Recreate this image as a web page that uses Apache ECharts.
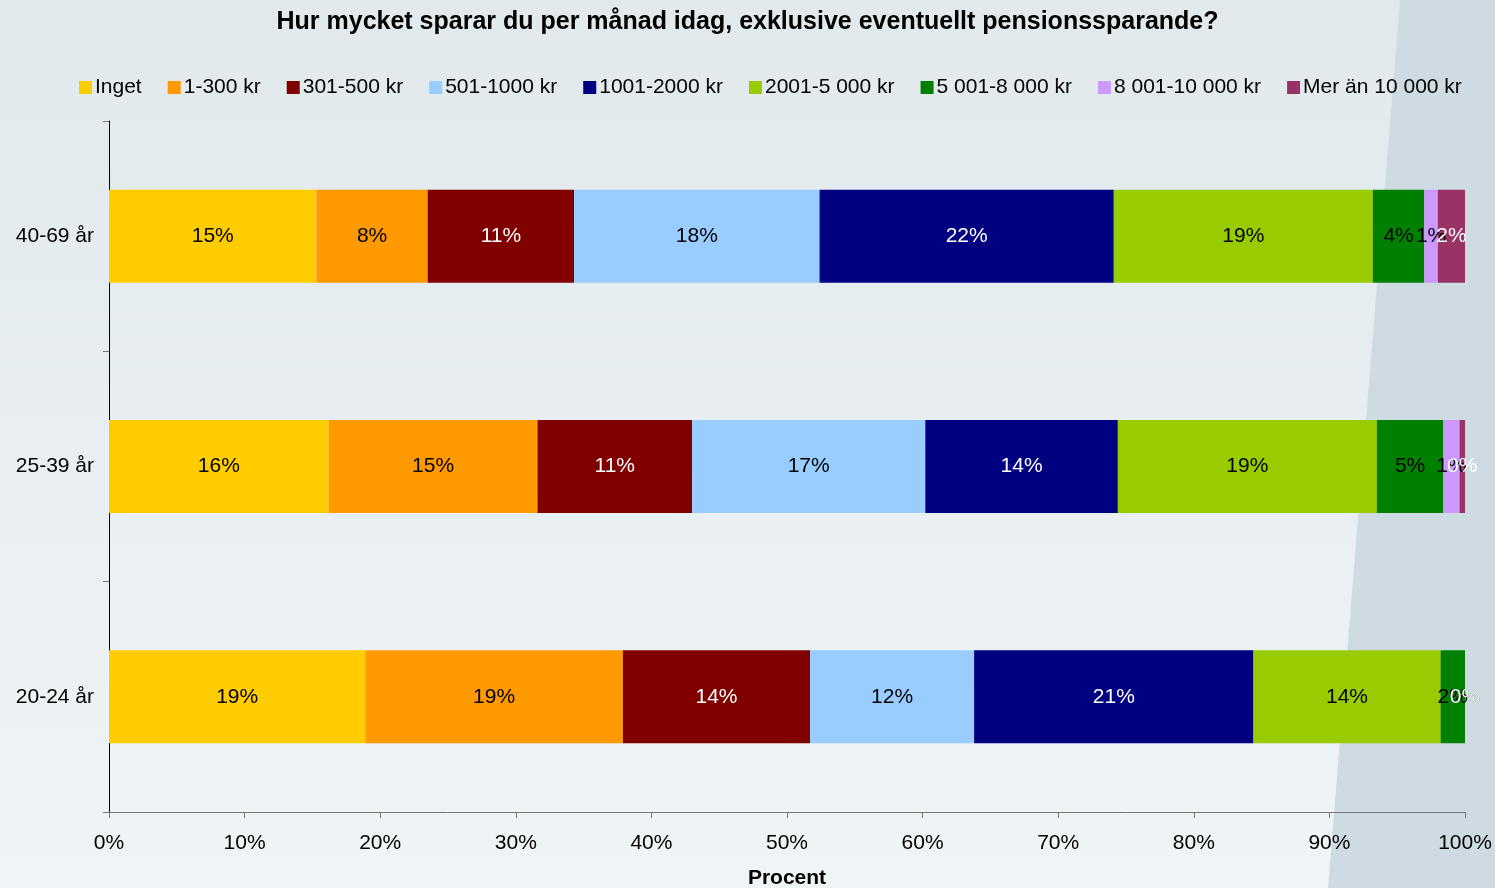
<!DOCTYPE html>
<html>
<head>
<meta charset="utf-8">
<script src="https://cdn.jsdelivr.net/npm/echarts@6/dist/echarts.min.js"></script>
<style>
  html, body { margin: 0; padding: 0; }
  #chart { width: 1495px; height: 888px; }
</style>
</head>
<body>
<div id="chart"></div>
<script>
// åldersgrupper, nerifrån och upp
const groups = ['20-24 år', '25-39 år', '40-69 år'];
const seriesNames = ['Inget', '1-300 kr', '301-500 kr', '501-1000 kr', '1001-2000 kr',
  '2001-5 000 kr', '5 001-8 000 kr', '8 001-10 000 kr', 'Mer än 10 000 kr'];
const colors = ['#ffcc00', '#ff9900', '#800000', '#99ccff', '#000080',
  '#99cc00', '#008000', '#cc99ff', '#993366'];
const labelColors = ['#000', '#000', '#fff', '#000', '#fff', '#000', '#000', '#000', '#fff'];

// andel i procent per grupp (samma ordning som seriesNames)
const age2024 = [18.9, 19.0, 13.8, 12.1, 20.6, 13.8, 1.8, 0, 0];
const age2539 = [16.2, 15.4, 11.4, 17.2, 14.2, 19.1, 4.9, 1.2, 0.4];
const age4069 = [15.3, 8.2, 10.8, 18.1, 21.7, 19.1, 3.8, 1.0, 2.0];

const myChart = echarts.init(document.getElementById('chart'));

const series = seriesNames.map(function (name, i) {
  return {
    name: name,
    type: 'bar',
    stack: 'total',
    barWidth: 93,
    itemStyle: {color: colors[i]},
    label: {
      show: true,
      position: 'inside',
      color: labelColors[i],
      fontSize: 21,
      formatter: function (p) { return Math.round(p.value) + '%'; }
    },
    data: [age2024[i], age2539[i], age4069[i]]
  };
});

myChart.setOption({
  backgroundColor: {
    type: 'linear', x: 0, y: 0, x2: 0, y2: 1,
    colorStops: [{offset: 0, color: '#e1e9ed'}, {offset: 1, color: '#eff4f6'}]
  },
  graphic: [{
    type: 'polygon',
    silent: true,
    z: -10,
    shape: {points: [[1400, 0], [1495, 0], [1495, 888], [1328, 888]]},
    style: {fill: '#cfdbe3'}
  }],
  textStyle: {fontFamily: 'Liberation Sans, Arial, sans-serif'},
  title: {
    text: 'Hur mycket sparar du per månad idag, exklusive eventuellt pensionssparande?',
    left: 'center',
    top: 5,
    textStyle: {fontSize: 25, fontWeight: 'bold', color: '#000'}
  },
  legend: {
    top: 72,
    left: 74,
    itemWidth: 13,
    itemHeight: 13,
    itemGap: 26,
    icon: 'rect',
    textStyle: {fontSize: 21, color: '#000', padding: [0, 0, 0, -2]},
    data: seriesNames
  },
  grid: {left: 109, right: 30, top: 121, bottom: 76, outerBoundsMode: 'none'},
  xAxis: {
    type: 'value',
    min: 0,
    max: 100,
    interval: 10,
    name: 'Procent',
    nameLocation: 'middle',
    nameGap: 56,
    nameTextStyle: {fontSize: 21, fontWeight: 'bold', color: '#000'},
    splitLine: {show: false},
    axisLine: {show: true, lineStyle: {color: '#777'}},
    axisTick: {show: true, length: 6, lineStyle: {color: '#777'}},
    axisLabel: {fontSize: 21, color: '#000', margin: 21, formatter: '{value}%'}
  },
  yAxis: {
    type: 'category',
    data: groups,
    axisLine: {show: true, lineStyle: {color: '#000'}},
    axisTick: {show: true, length: 6, lineStyle: {color: '#777'}},
    axisLabel: {fontSize: 21, color: '#000', margin: 15}
  },
  series: series
});
</script>
</body>
</html>
